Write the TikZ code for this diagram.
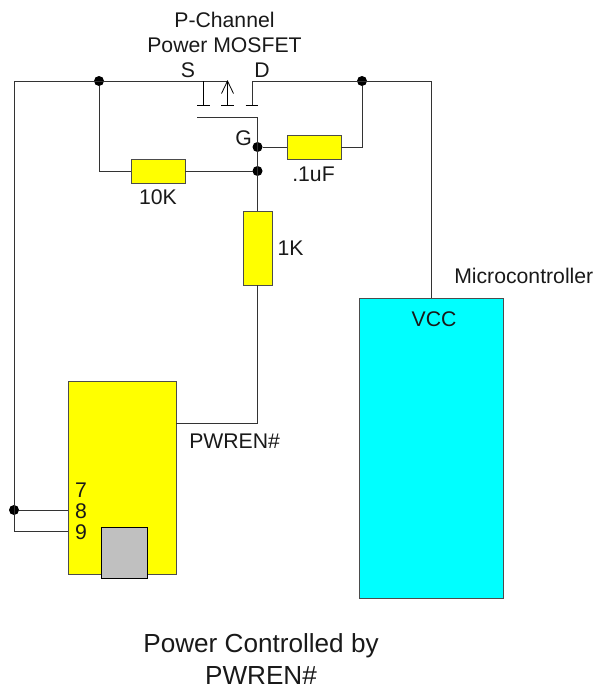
\documentclass[tikz,border=0pt]{standalone}
\usepackage{fontspec}
\setmainfont{Liberation Sans}
\definecolor{pcyan}{RGB}{0,255,255}
\definecolor{pyellow}{RGB}{255,255,0}
\definecolor{pgray}{RGB}{192,192,192}
\tikzset{
 x=0.75pt,y=-0.75pt,
 wire/.style={draw=black!80,line width=0.75pt},
 bar/.style={draw=black,line width=0.6pt},
 box/.style={draw=black!70,line width=0.75pt,inner sep=0pt,outer sep=0pt},
 yel/.style={box,fill=pyellow},
 dot/.style={circle,fill=black,inner sep=0pt,minimum size=7.5pt,outer sep=0pt},
 lbl/.style={inner sep=0pt,font=\fontsize{15.9pt}{19pt}\selectfont,text=black!90,align=center},
 big/.style={inner sep=0pt,font=\fontsize{19.6pt}{26pt}\selectfont,text=black!90,align=center},
}
\begin{document}
\begin{tikzpicture}
\useasboundingbox (0,0) rectangle (595,689);
\node[box,fill=pcyan,minimum width=108pt,minimum height=225pt,anchor=north west] (mcu) at (359,298) {};
\node[yel,minimum width=81pt,minimum height=144.75pt,anchor=north west] (ft) at (68,381) {};
\node[box,draw=black,fill=pgray,minimum width=34.5pt,minimum height=38.25pt,anchor=north west] (usb) at (101,527) {};
\node[yel,minimum width=40.5pt,minimum height=18pt,anchor=north west] (rk) at (131,159) {};
\node[yel,minimum width=40.5pt,minimum height=18pt,anchor=north west] (cap) at (287,135) {};
\node[yel,minimum width=21.75pt,minimum height=55.5pt,anchor=north west] (ro) at (243,211) {};
\node[dot] (d1) at (99,81) {};
\node[dot] (d2) at (362,81) {};
\node[dot] (dg) at (257.5,147) {};
\node[dot] (dj) at (257.5,171) {};
\node[dot] (dl) at (14,510) {};
\coordinate (srcL) at (14,81);
\coordinate (srcR) at (227.5,81);
\coordinate (drnT) at (252,81);
\coordinate (drnR) at (431,81);
\coordinate (mcuT) at (431,298);
\coordinate (gl) at (197,117);
\coordinate (gr) at (257.5,117);
\coordinate (sT) at (203.5,81);
\coordinate (sB) at (203.5,105);
\coordinate (aB) at (227.5,105);
\coordinate (dB) at (252,105);
\coordinate (p8) at (68,510);
\coordinate (p9) at (68,531);
\coordinate (cr) at (362,147);
\coordinate (bl) at (99,171);
\coordinate (pw) at (257.5,423);
\coordinate (pwb) at (176,423);
\draw[wire] (p9) -| (srcL) -- (srcR);
\draw[wire] (dl) -- (p8);
\draw[wire] (dB) -- (drnT) -- (drnR) -- (mcuT);
\draw[wire] (gl) -- (gr) -- (ro.north);
\draw[wire] (d1) -- (bl) -- (rk.west);
\draw[wire] (rk.east) -- (dj);
\draw[wire] (dg) -- (cap.west);
\draw[wire] (cap.east) -- (cr) -- (d2);
\draw[wire] (ro.south) -- (pw) -- (pwb);
\draw[bar] (sT) -- (sB);
\draw[bar] (srcR) -- (aB);
\draw[bar] (197,105) -- (210,105);
\draw[bar] (221,105) -- (234,105);
\draw[bar] (245.5,105) -- (258,105);
\draw[bar] (221.5,93.5) -- (srcR) -- (233.5,93.5);
\node[lbl] (t1) at (224.5,20) {P-Channel};
\node[lbl] (t2) at (224.5,45.5) {Power MOSFET};
\node[lbl] (ls) at (188,70.5) {S};
\node[lbl] (ld) at (262,70.5) {D};
\node[lbl] (lg) at (243.5,138) {G};
\node[lbl] (l01) at (313.5,174.5) {.1uF};
\node[lbl] (l10) at (158,197.5) {10K};
\node[lbl] (l1k) at (290.5,248.5) {1K};
\node[lbl,anchor=west] (lm) at (454,276) {Microcontroller};
\node[lbl] (lv) at (434,319) {VCC};
\node[lbl,anchor=west] (lp) at (189,441.5) {PWREN\#};
\node[lbl] (l7) at (81,490.5) {7};
\node[lbl] (l8) at (81,511.5) {8};
\node[lbl] (l9) at (81,532) {9};
\node[big] (cap1) at (261,645.5) {Power Controlled by};
\node[big] (cap2) at (261,676) {PWREN\#};
\end{tikzpicture}
\end{document}
